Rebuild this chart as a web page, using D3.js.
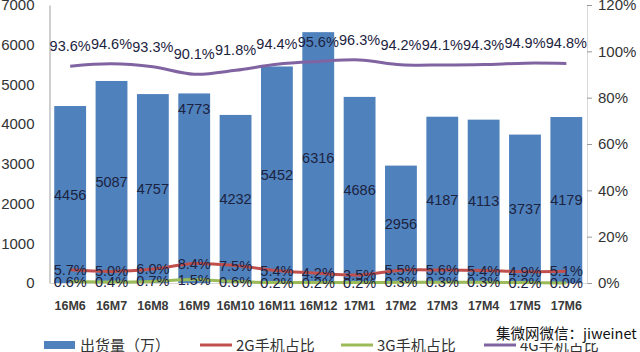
<!DOCTYPE html>
<html>
<head>
<meta charset="utf-8">
<script src="https://cdn.jsdelivr.net/npm/d3@7"></script>
<style>
  html, body { margin: 0; padding: 0; background: #fff; }
  svg { display: block; }
</style>
</head>
<body>
<svg id="chart" width="640" height="352"></svg>
<script>
const categories = ["16M6","16M7","16M8","16M9","16M10","16M11","16M12","17M1","17M2","17M3","17M4","17M5","17M6"];
const shipments = [4456,5087,4757,4773,4232,5452,6316,4686,2956,4187,4113,3737,4179];
const share2G = [5.7,5.0,6.0,8.4,7.5,5.4,4.2,3.5,5.5,5.6,5.4,4.9,5.1];
const share3G = [0.6,0.4,0.7,1.5,0.6,0.2,0.2,0.2,0.3,0.3,0.3,0.2,0.0];
const share4G = [93.6,94.6,93.3,90.1,91.8,94.4,95.6,96.3,94.2,94.1,94.3,94.9,94.8];
const leftTicks = [0,1000,2000,3000,4000,5000,6000,7000];
const rightTicks = [0,20,40,60,80,100,120];
const legendLabels = ["出货量（万）","2G手机占比","3G手机占比","4G手机占比"];
const watermark = "集微网微信：jiweinet";

const colors = { bar: "#4f81bd", g2: "#c0504d", g3: "#9bbb59", g4: "#8064a2" };
const font = "'Liberation Sans', Arial, sans-serif";

const svg = d3.select("#chart");
const pL = 49.5, pR = 587, pT = 5, pB = 283;

const x = d3.scaleBand().domain(categories).range([pL, pR]).paddingInner(0.23).paddingOuter(0.115);
const yL = d3.scaleLinear().domain([0, 7000]).range([pB, pT]);
const yR = d3.scaleLinear().domain([0, 120]).range([pB, pT]);

// axes
const axL = svg.append("g").attr("transform", `translate(${pL},0)`)
  .call(d3.axisLeft(yL).tickValues(leftTicks).tickSize(0).tickPadding(15).tickFormat(d3.format("d")));
axL.select(".domain").attr("stroke", "#bfbfbf").attr("stroke-width", 1.5);
axL.selectAll("text").attr("font-family", font).attr("font-size", 15).attr("fill", "#333");

const axR = svg.append("g").attr("transform", `translate(${pR},0)`)
  .call(d3.axisRight(yR).tickValues(rightTicks).tickSize(5).tickPadding(6).tickFormat(d => d + "%"));
axR.select(".domain").attr("stroke", "#d9d9d9");
axR.selectAll(".tick line").attr("stroke", "#999");
axR.selectAll("text").attr("font-family", font).attr("font-size", 15).attr("fill", "#333");

const axB = svg.append("g").attr("transform", `translate(0,${pB})`)
  .call(d3.axisBottom(x).tickSize(0).tickPadding(18));
axB.select(".domain").attr("stroke", "#d9d9d9");
axB.selectAll("text").attr("font-family", font).attr("font-size", 12.5).attr("font-weight", "bold").attr("fill", "#3a3a3a");

// bars
svg.append("g").selectAll("rect").data(shipments).join("rect")
  .attr("x", (d, i) => x(categories[i]))
  .attr("width", x.bandwidth())
  .attr("y", d => yL(d))
  .attr("height", d => yL(0) - yL(d))
  .attr("fill", colors.bar);

// lines
const line = d3.line()
  .x((d, i) => x(categories[i]) + x.bandwidth() / 2)
  .y(d => yR(d))
  .curve(d3.curveCatmullRom.alpha(0.5));

[[share4G, colors.g4], [share2G, colors.g2], [share3G, colors.g3]].forEach(([s, c]) => {
  svg.append("path").datum(s).attr("d", line).attr("fill", "none").attr("stroke", c).attr("stroke-width", 3);
});

// labels
const lbl = svg.append("g").attr("font-family", font).attr("font-size", 14.5).attr("fill", "#1c2340").attr("text-anchor", "middle");

lbl.selectAll(".bl").data(shipments).join("text")
  .attr("x", (d, i) => x(categories[i]) + x.bandwidth() / 2)
  .attr("y", (d, i) => categories[i] === "16M9" ? yL(d) + 15 : (yL(d) + yL(0)) / 2)
  .attr("dy", "0.35em")
  .text(d => d);

lbl.selectAll(".l4").data(share4G).join("text")
  .attr("x", (d, i) => x(categories[i]) + x.bandwidth() / 2)
  .attr("y", d => yR(d) - 20)
  .attr("dy", "0.35em")
  .text(d => d.toFixed(1) + "%");

lbl.selectAll(".l2").data(share2G).join("text")
  .attr("x", (d, i) => x(categories[i]) + x.bandwidth() / 2)
  .attr("y", d => yR(d))
  .attr("dy", "0.35em")
  .text(d => d.toFixed(1) + "%");

lbl.selectAll(".l3").data(share3G).join("text")
  .attr("x", (d, i) => x(categories[i]) + x.bandwidth() / 2)
  .attr("y", d => yR(d))
  .attr("dy", "0.35em")
  .text(d => d.toFixed(1) + "%");

// legend
const lg = svg.append("g").attr("font-family", "'Noto Sans CJK SC', sans-serif").attr("font-size", 15).attr("fill", "#333");
const legendX = [44, 200, 341, 484];
const legendColors = [colors.bar, colors.g2, colors.g3, colors.g4];
legendLabels.forEach((t, i) => {
  const gx = legendX[i];
  if (i === 0) {
    lg.append("rect").attr("x", gx).attr("y", 341).attr("width", 31).attr("height", 8).attr("fill", legendColors[i]);
  } else {
    lg.append("line").attr("x1", gx).attr("x2", gx + 32).attr("y1", 345).attr("y2", 345)
      .attr("stroke", legendColors[i]).attr("stroke-width", 3);
  }
  lg.append("text").attr("x", gx + 36).attr("y", 346).attr("dy", "0.36em").text(t);
});

// watermark
svg.append("rect").attr("x", 494).attr("y", 323).attr("width", 146).attr("height", 20).attr("fill", "#fff");
svg.append("text").attr("x", 496).attr("y", 334).attr("dy", "0.36em")
  .attr("font-family", "'Noto Sans CJK SC', sans-serif").attr("font-size", 14.5).attr("fill", "#111")
  .text(watermark);
</script>
</body>
</html>
